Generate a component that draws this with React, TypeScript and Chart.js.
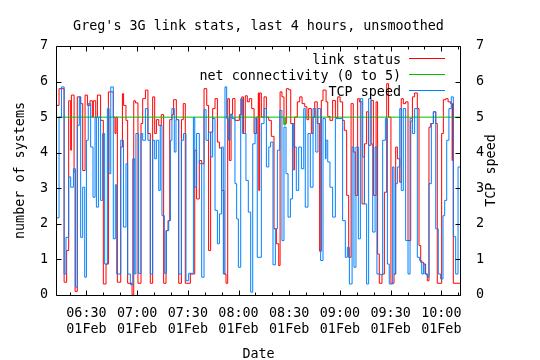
import { useEffect, useRef } from "react";
import { Chart, registerables } from "chart.js";

Chart.register(...registerables);

const TITLE = "Greg's 3G link stats, last 4 hours, unsmoothed";
const X_TITLE = "Date";
const Y_TITLE = "number of systems";
const Y2_TITLE = "TCP speed";

// x values are minutes after 06:00 on 01Feb
const X_MIN = 12.0;
const X_MAX = 251.65;
const TICK_TIMES = [30, 60, 90, 120, 150, 180, 210, 240];
const TICK_LABELS = ["06:30", "07:00", "07:30", "08:00", "08:30", "09:00", "09:30", "10:00"];
const TICK_DATE = "01Feb";
const MINOR_TIMES = [20, 30, 40, 50, 60, 70, 80, 90, 100, 110, 120, 130, 140, 150, 160, 170, 180, 190, 200, 210, 220, 230, 240, 250];
const Y_TICKS = [0, 1, 2, 3, 4, 5, 6, 7];

const SERIES_NAMES = ["link status", "net connectivity (0 to 5)", "TCP speed"];
const SERIES_COLORS = ["#ff0000", "#00c000", "#0080ff"];

const LINK_T = [
  12.4, 13.8, 16.8, 18.3, 19.5, 20.7, 21.1, 22.7, 23.3, 24.6, 26.6, 27.8, 29.2, 30.6, 32.1, 33.5, 34.1, 35.5, 36.5, 38.4, 40.0, 41.6, 43.0, 45.9, 46.9, 47.5, 48.3, 50.3, 51.3,
  52.0, 53.4, 54.4, 57.0, 58.0, 59.0, 60.5, 62.3, 63.3, 64.9, 66.4, 67.8, 69.2, 70.4, 71.4, 72.8, 74.3, 75.7, 77.1, 78.3, 79.3, 80.6, 81.6, 83.2, 84.6, 86.2, 87.3, 88.5, 91.5,
  94.1, 95.2, 96.8, 98.2, 99.6, 101.2, 102.3, 103.5, 104.7, 106.1, 107.5, 108.7, 110.0, 111.4, 112.6, 113.6, 114.6, 115.6, 116.5, 117.9, 120.5, 121.9, 122.9, 124.0, 125.2, 126.4, 127.8, 129.2, 130.7, 131.7, 132.0,
  132.5, 133.5, 135.1, 136.5, 137.9, 139.4, 141.0, 142.4, 143.8, 144.6, 145.7, 146.9, 148.3, 149.7, 150.9, 152.3, 153.2, 154.8, 156.2, 157.6, 159.2, 160.5, 161.5, 163.1, 164.1, 165.1, 166.6, 168.0, 169.0, 170.0,
  171.8, 172.8, 174.1, 175.7, 177.3, 178.7, 180.1, 181.6, 182.6, 184.0, 185.2, 186.6, 187.9, 189.1, 190.5, 191.5, 193.1, 194.5, 195.8, 197.0, 198.4, 199.8, 201.4, 202.3, 203.3, 204.9, 206.3, 207.7, 208.8, 210.2,
  212.0, 213.0, 214.0, 215.4, 216.3, 217.5, 218.9, 220.3, 221.9, 222.9, 224.2, 225.8, 226.8, 227.8, 229.4, 230.7, 231.7, 232.7, 233.7, 235.3, 236.7, 237.6, 240.2, 241.2, 242.6, 244.0, 245.5, 246.4, 246.7, 247.1, 251.65,
];
const LINK_V = [
  5.33, 5.80, 0.36, 1.25, 5.46, 4.07, 5.62, 3.46, 0.10, 5.57, 5.38, 3.50, 5.62, 5.33, 5.46, 5.00, 5.46, 5.00, 5.62, 4.91, 0.31, 0.87, 5.71, 5.00, 4.54, 5.00, 0.36, 4.16, 5.66,
  5.33, 4.91, 0.33, 0.01, 5.46, 5.40, 0.33, 4.82, 5.52, 5.76, 4.54, 0.33, 5.57, 4.54, 4.93, 4.77, 5.07, 0.33, 1.81, 2.09, 4.93, 5.07, 5.49, 4.93, 0.33, 4.93, 5.38, 0.33, 0.59,
  4.07, 2.70, 3.78, 3.69, 5.80, 5.33, 1.25, 4.58, 5.24, 5.52, 4.30, 4.13, 2.94, 0.59, 0.33, 5.52, 3.78, 5.08, 5.52, 4.91, 5.07, 5.57, 4.54, 5.60, 5.43, 5.52, 5.24, 4.54, 5.00, 5.68, 2.94,
  5.68, 5.00, 5.57, 5.00, 4.91, 4.46, 1.86, 1.44, 0.83, 5.71, 5.57, 4.82, 5.80, 5.77, 4.82, 3.52, 5.00, 5.43, 5.57, 5.38, 5.29, 4.93, 5.24, 4.54, 5.00, 5.43, 4.82, 1.23, 5.47, 5.76,
  5.43, 5.02, 4.91, 5.47, 4.99, 5.57, 5.43, 4.91, 4.63, 2.80, 1.06, 5.38, 4.02, 2.80, 5.52, 5.43, 2.56, 4.25, 5.15, 4.21, 5.47, 2.80, 5.43, 1.15, 0.33, 0.59, 2.89, 5.94, 5.00, 0.33,
  0.59, 4.16, 3.83, 3.17, 5.52, 5.38, 5.43, 1.53, 4.89, 5.57, 5.68, 5.24, 1.39, 0.92, 0.87, 0.59, 0.40, 4.72, 4.82, 5.15, 4.82, 0.33, 4.54, 5.49, 5.52, 5.43, 5.38, 3.78, 5.38, 0.33, 0.33,
];

const NET_T = [12.4, 146.9, 147.7, 251.65];
const NET_V = [5, 4.78, 5, 5];

const TCP_T = [
  12.4, 13.8, 15.2, 16.8, 17.9, 19.5, 20.7, 22.3, 23.5, 24.6, 25.8, 26.6, 27.8, 29.0, 30.0, 31.1, 32.5, 33.9, 35.1, 35.9, 37.1, 38.4, 39.6, 40.8, 42.4, 43.4, 44.4, 45.9, 47.1, 47.9, 50.3, 51.9,
  53.4, 54.4, 56.0, 57.4, 58.6, 59.3, 60.9, 62.3, 63.3, 64.9, 66.4, 67.8, 69.2, 70.4, 71.4, 72.8, 73.7, 74.7, 76.1, 77.3, 78.7, 79.7, 80.6, 82.0, 83.0, 84.6, 86.2, 87.5, 88.9, 90.5,
  93.3, 94.1, 95.2, 96.8, 98.2, 99.6, 100.8, 102.2, 103.5, 104.7, 106.1, 107.5, 108.7, 110.0, 111.0, 112.0, 113.0, 114.0, 115.0, 116.3, 117.9, 118.9, 119.9, 121.3, 122.3, 124.4, 125.8, 127.2, 128.4, 129.8, 131.1,
  133.5, 135.1, 136.5, 137.9, 139.0, 140.4, 141.8, 143.0, 144.4, 145.7, 146.9, 148.1, 149.3, 150.7, 151.9, 152.8, 154.2, 155.6, 157.2, 158.6, 159.5, 161.1, 162.5, 164.1, 165.7, 167.0, 168.6, 170.0, 171.4,
  171.8, 172.8, 174.1, 175.7, 177.3, 181.6, 183.2, 184.4, 185.6, 187.2, 188.3, 189.5, 190.9, 192.1, 193.5, 194.5, 195.8, 197.0, 198.4, 199.4, 200.8, 201.9, 203.9, 205.3, 206.9, 208.1, 209.2, 211.2,
  212.0, 213.0, 214.0, 215.4, 216.3, 217.5, 218.9, 220.3, 221.5, 222.9, 224.2, 225.8, 227.2, 228.4, 229.4, 230.3, 231.7, 232.7, 234.1, 235.3, 236.7, 238.2, 239.6, 241.0, 242.0, 243.2, 244.5, 245.9, 247.1, 248.5, 249.9, 251.65,
];
const TCP_V = [
  2.17, 5.00, 5.85, 0.59, 1.62, 3.32, 3.03, 3.55, 0.22, 4.77, 5.57, 1.62, 3.03, 0.50, 4.35, 5.38, 4.16, 2.75, 5.00, 2.47, 5.00, 2.66, 4.54, 0.87, 5.24, 3.41, 5.85, 1.58, 3.10, 0.59, 4.35, 1.91,
  3.69, 0.59, 0.29, 3.83, 0.59, 4.54, 0.61, 4.54, 4.35, 5.24, 4.35, 0.59, 4.35, 3.83, 4.35, 2.94, 4.77, 2.23, 0.61, 1.81, 2.09, 4.35, 5.24, 4.02, 4.93, 0.59, 4.35, 4.54, 0.40, 0.61,
  4.99, 3.03, 4.54, 3.69, 0.50, 5.21, 4.35, 4.58, 3.88, 4.96, 2.38, 1.44, 2.28, 4.16, 0.59, 5.85, 4.96, 4.35, 5.08, 4.96, 3.13, 2.14, 0.78, 5.52, 4.54, 3.22, 2.33, 0.08, 4.25, 4.96, 1.06,
  4.82, 5.24, 3.60, 4.16, 4.30, 0.85, 1.86, 4.07, 5.19, 1.53, 4.72, 3.41, 2.19, 2.70, 4.82, 4.16, 2.94, 4.16, 3.55, 5.24, 2.47, 4.54, 3.03, 5.24, 4.02, 5.24, 0.97, 4.96, 3.83,
  4.35, 3.74, 3.03, 2.19, 4.96, 2.09, 1.06, 1.34, 0.31, 4.16, 0.78, 4.16, 1.58, 5.52, 3.88, 2.56, 0.31, 5.52, 4.25, 1.77, 4.16, 0.59, 0.57, 4.35, 4.96, 0.87, 0.31, 3.60,
  0.59, 3.13, 3.60, 5.24, 2.94, 5.24, 1.53, 0.59, 4.96, 4.54, 5.24, 1.06, 0.97, 0.59, 0.87, 0.59, 0.50, 3.13, 4.82, 5.15, 1.86, 0.59, 0.45, 2.23, 2.66, 4.35, 5.24, 5.57, 1.64, 0.59, 3.60, 3.60,
];

const FONT_FAMILY = "'DejaVu Sans Mono', 'Liberation Mono', monospace";
const FONT_SIZE = 13.4;
const CSS_FONT = `${FONT_SIZE}px ${FONT_FAMILY}`;

function pts(t: number[], v: number[]) {
  const n = Math.min(t.length, v.length);
  const out: { x: number; y: number }[] = [];
  for (let i = 0; i < n; i++) out.push({ x: t[i], y: v[i] });
  return out;
}

const decorPlugin = {
  id: "decor",
  afterDatasetsDraw(chart: any) {
    const { ctx, chartArea: a } = chart;
    const xs = chart.scales.x;
    const ys = chart.scales.y;
    const L = Math.round(a.left) + 0.5;
    const R = Math.round(a.right) - 0.5;
    const T = Math.round(a.top) + 0.5;
    const B = Math.round(a.bottom) + 0.5;
    ctx.save();
    ctx.strokeStyle = "#000";
    ctx.lineWidth = 1;
    ctx.beginPath();
    ctx.rect(L, T, R - L, B - T);
    ctx.stroke();
    ctx.beginPath();
    for (const m of MINOR_TIMES) {
      const px = Math.round(xs.getPixelForValue(m)) + 0.5;
      const len = TICK_TIMES.includes(m) ? 5 : 3;
      ctx.moveTo(px, B);
      ctx.lineTo(px, B - len);
      ctx.moveTo(px, T);
      ctx.lineTo(px, T + len);
    }
    for (const v of Y_TICKS) {
      const py = Math.round(ys.getPixelForValue(v)) + 0.5;
      ctx.moveTo(L, py);
      ctx.lineTo(L + 5, py);
      ctx.moveTo(R, py);
      ctx.lineTo(R - 5, py);
    }
    ctx.stroke();

    // key
    ctx.font = CSS_FONT;
    ctx.fillStyle = "#000";
    ctx.textAlign = "right";
    ctx.textBaseline = "alphabetic";
    chart.data.datasets.forEach((ds: any, i: number) => {
      const y0 = 58.5 + 16 * i;
      ctx.fillText(ds.label, 401, y0 + 5);
      ctx.strokeStyle = ds.borderColor;
      ctx.beginPath();
      ctx.moveTo(409, y0);
      ctx.lineTo(445, y0);
      ctx.stroke();
    });

    // title, x title, y2 title
    const cx = (a.left + a.right) / 2;
    ctx.textAlign = "center";
    ctx.fillText(TITLE, cx, 29.5);
    ctx.fillText(X_TITLE, cx, 358);
    ctx.translate(491.5, (a.top + a.bottom) / 2);
    ctx.rotate(-Math.PI / 2);
    ctx.textBaseline = "middle";
    ctx.fillText(Y2_TITLE, 0, 0);
    ctx.restore();
  },
};

export default function App() {
  const ref = useRef<HTMLCanvasElement>(null);

  useEffect(() => {
    if (!ref.current) return;
    const font = { family: FONT_FAMILY, size: FONT_SIZE, lineHeight: 1.209 };
    const chart = new Chart(ref.current, {
      type: "line",
      data: {
        datasets: [
          { label: SERIES_NAMES[0], data: pts(LINK_T, LINK_V), borderColor: SERIES_COLORS[0], order: 3 },
          { label: SERIES_NAMES[1], data: pts(NET_T, NET_V), borderColor: SERIES_COLORS[1], order: 2 },
          { label: SERIES_NAMES[2], data: pts(TCP_T, TCP_V), borderColor: SERIES_COLORS[2], order: 1 },
        ].map((d) => ({
          ...d,
          stepped: "before" as const,
          borderWidth: 1,
          pointRadius: 0,
          pointHoverRadius: 0,
          fill: false,
          tension: 0,
          borderCapStyle: "butt" as const,
          borderJoinStyle: "miter" as const,
        })),
      },
      options: {
        animation: false,
        responsive: false,
        maintainAspectRatio: false,
        events: [],
        layout: { padding: { top: 46, left: 0, right: 0, bottom: 0 } },
        plugins: {
          legend: { display: false },
          title: { display: false },
          tooltip: { enabled: false },
        },
        scales: {
          x: {
            type: "linear",
            position: "bottom",
            min: X_MIN,
            max: X_MAX,
            grid: { display: false, drawTicks: false },
            border: { display: false },
            afterBuildTicks: (s: any) => {
              s.ticks = TICK_TIMES.map((v) => ({ value: v }));
            },
            afterFit: (s: any) => {
              s.height = 65;
              s.paddingLeft = 0;
              s.paddingRight = 0;
            },
            ticks: {
              autoSkip: false,
              maxRotation: 0,
              minRotation: 0,
              padding: 10,
              color: "#000",
              font,
              callback: (v: any) => {
                const i = TICK_TIMES.indexOf(Number(v));
                return i >= 0 ? [TICK_LABELS[i], TICK_DATE] : "";
              },
            },
          },
          y: {
            type: "linear",
            position: "left",
            min: 0,
            max: 7,
            grid: { display: false, drawTicks: false },
            border: { display: false },
            afterFit: (s: any) => {
              s.width = 56;
              s.paddingTop = 0;
              s.paddingBottom = 0;
            },
            ticks: { stepSize: 1, padding: 8, color: "#000", font },
            title: {
              display: true,
              text: Y_TITLE,
              color: "#000",
              font,
              padding: { top: 12, bottom: 0 },
            },
          },
          y2: {
            type: "linear",
            position: "right",
            min: 0,
            max: 7,
            grid: { display: false, drawTicks: false },
            border: { display: false },
            afterFit: (s: any) => {
              s.width = 79;
              s.paddingTop = 0;
              s.paddingBottom = 0;
            },
            ticks: { stepSize: 1, padding: 15, color: "#000", font },
          },
        },
      },
      plugins: [decorPlugin],
    });
    return () => chart.destroy();
  }, []);

  return (
    <div style={{ position: "absolute", left: 0, top: 0, width: 540, height: 360, background: "#fff" }}>
      <canvas ref={ref} width={540} height={360} style={{ display: "block", width: 540, height: 360 }} />
    </div>
  );
}
